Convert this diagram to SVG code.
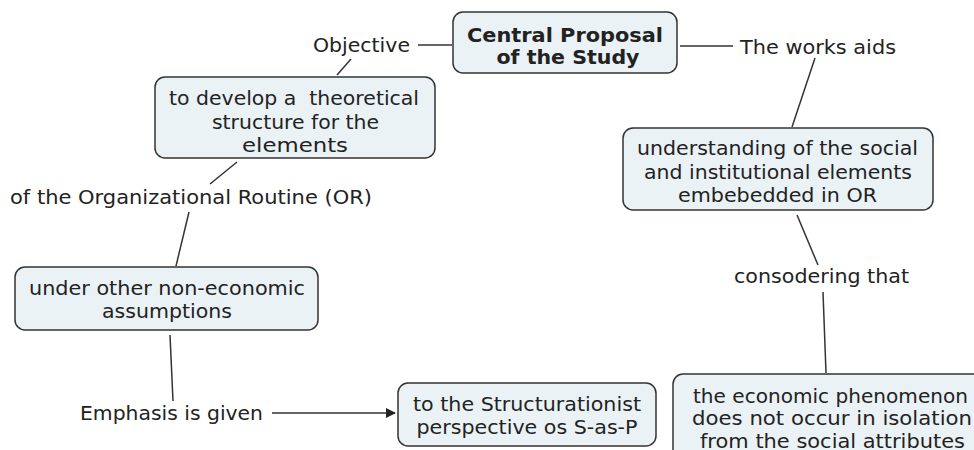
<svg xmlns="http://www.w3.org/2000/svg" width="974" height="450" viewBox="0 0 974 450">
<defs>
<style>
.box{fill:#ebf2f5;stroke:#333;stroke-width:1.5}
.t{font-family:"DejaVu Sans","Liberation Sans",sans-serif;font-size:19px;fill:#222;text-anchor:middle;dominant-baseline:central}
.b{font-weight:bold}
.c{stroke:#333;stroke-width:1.5;fill:none}
</style>
<marker id="ah" markerWidth="10" markerHeight="10" refX="9" refY="5" orient="auto" markerUnits="userSpaceOnUse">
<path d="M0,0 L10,5 L0,10 z" fill="#222"/>
</marker>
</defs>
<rect width="974" height="450" fill="#fff"/>
<g id="connectors">
<line class="c" x1="418" y1="45" x2="452" y2="45"/>
<line class="c" x1="351" y1="59" x2="337" y2="75"/>
<line class="c" x1="237" y1="162" x2="210" y2="184"/>
<line class="c" x1="189" y1="212" x2="176" y2="266"/>
<line class="c" x1="170" y1="335" x2="173" y2="401"/>
<line class="c" x1="272" y1="413" x2="395" y2="413" marker-end="url(#ah)"/>
<line class="c" x1="680" y1="46" x2="733" y2="46"/>
<line class="c" x1="815" y1="58" x2="792" y2="127"/>
<line class="c" x1="797" y1="215" x2="818" y2="265"/>
<line class="c" x1="823" y1="292" x2="826" y2="373"/>
</g>
<g id="central">
<rect class="box" x="453" y="12" width="224" height="61" rx="10"/>
<text class="t b" x="565" y="35" textLength="196" lengthAdjust="spacingAndGlyphs">Central Proposal</text>
<text class="t b" x="568" y="57" textLength="143" lengthAdjust="spacingAndGlyphs">of the Study</text>
</g>
<g id="objective">
<text class="t" x="361.5" y="45" textLength="97" lengthAdjust="spacingAndGlyphs">Objective</text>
</g>
<g id="develop">
<rect class="box" x="155" y="77" width="280" height="81" rx="10"/>
<text class="t" x="294" y="98" textLength="250" lengthAdjust="spacingAndGlyphs" xml:space="preserve">to develop a  theoretical</text>
<text class="t" x="295.5" y="122" textLength="167" lengthAdjust="spacingAndGlyphs">structure for the</text>
<text class="t" x="295" y="145" textLength="106" lengthAdjust="spacingAndGlyphs">elements</text>
</g>
<g id="routine">
<text class="t" x="191" y="197" textLength="362" lengthAdjust="spacingAndGlyphs">of the Organizational Routine (OR)</text>
</g>
<g id="under">
<rect class="box" x="15" y="267" width="303" height="63" rx="10"/>
<text class="t" x="167" y="288" textLength="276" lengthAdjust="spacingAndGlyphs">under other non-economic</text>
<text class="t" x="167" y="311" textLength="130" lengthAdjust="spacingAndGlyphs">assumptions</text>
</g>
<g id="emphasis">
<text class="t" x="171.5" y="413" textLength="183" lengthAdjust="spacingAndGlyphs">Emphasis is given</text>
</g>
<g id="structurationist">
<rect class="box" x="398" y="383" width="258" height="63" rx="10"/>
<text class="t" x="527" y="404" textLength="228" lengthAdjust="spacingAndGlyphs">to the Structurationist</text>
<text class="t" x="527" y="427" textLength="221" lengthAdjust="spacingAndGlyphs">perspective os S-as-P</text>
</g>
<g id="works">
<text class="t" x="818" y="47" textLength="156" lengthAdjust="spacingAndGlyphs">The works aids</text>
</g>
<g id="understanding">
<rect class="box" x="623" y="128" width="310" height="82" rx="10"/>
<text class="t" x="777.5" y="148" textLength="281" lengthAdjust="spacingAndGlyphs">understanding of the social</text>
<text class="t" x="778" y="172" textLength="268" lengthAdjust="spacingAndGlyphs">and institutional elements</text>
<text class="t" x="777.5" y="195" textLength="199" lengthAdjust="spacingAndGlyphs">embebedded in OR</text>
</g>
<g id="considering">
<text class="t" x="821.5" y="276" textLength="175" lengthAdjust="spacingAndGlyphs">consodering that</text>
</g>
<g id="economic">
<rect class="box" x="673" y="374" width="316" height="90" rx="10"/>
<text class="t" x="830.5" y="396" textLength="275" lengthAdjust="spacingAndGlyphs">the economic phenomenon</text>
<text class="t" x="832" y="418" textLength="280" lengthAdjust="spacingAndGlyphs">does not occur in isolation</text>
<text class="t" x="832.5" y="441" textLength="265" lengthAdjust="spacingAndGlyphs">from the social attributes</text>
</g>
</svg>
